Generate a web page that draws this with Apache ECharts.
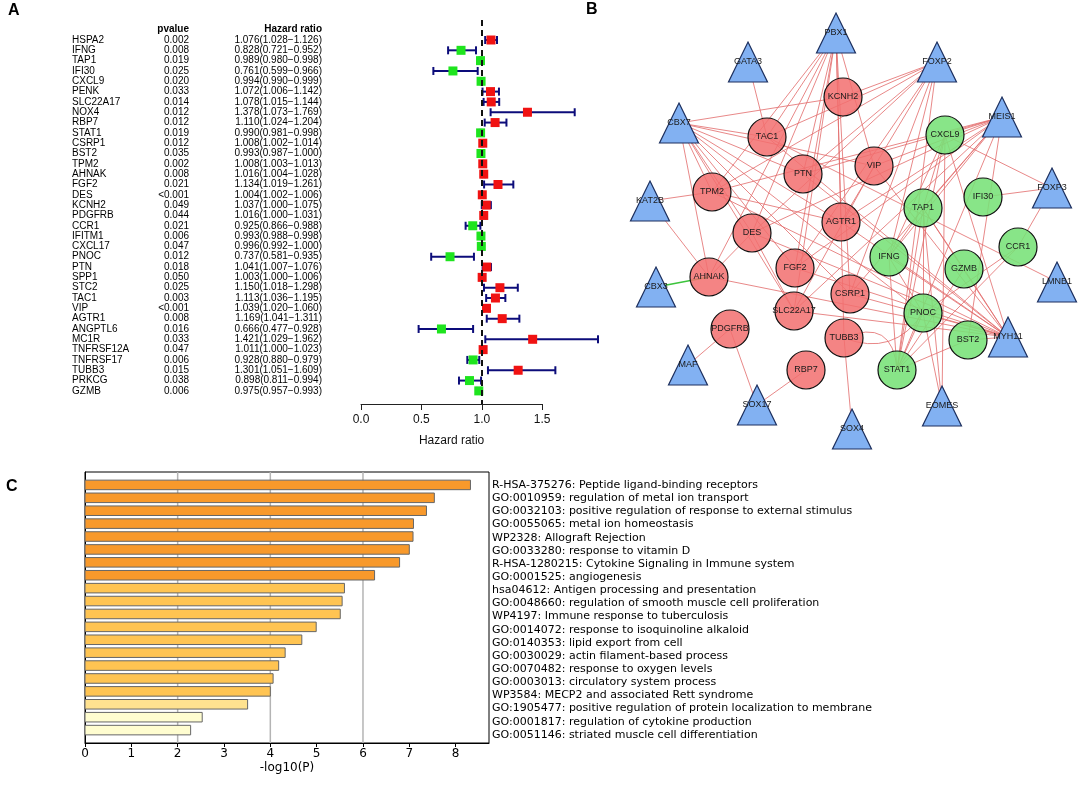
<!DOCTYPE html>
<html><head><meta charset="utf-8">
<script src="https://cdn.jsdelivr.net/npm/echarts@6/dist/echarts.min.js"></script>
<style>html,body{margin:0;padding:0;background:#fff}#c{width:1084px;height:786px}</style>
</head><body><div id="c"></div>
<script>
// ---------- Panel A data ----------
const genes = ['HSPA2','IFNG','TAP1','IFI30','CXCL9','PENK','SLC22A17','NOX4','RBP7','STAT1','CSRP1','BST2','TPM2','AHNAK','FGF2','DES','KCNH2','PDGFRB','CCR1','IFITM1','CXCL17','PNOC','PTN','SPP1','STC2','TAC1','VIP','AGTR1','ANGPTL6','MC1R','TNFRSF12A','TNFRSF17','TUBB3','PRKCG','GZMB'];
const pvalues = ['0.002','0.008','0.019','0.025','0.020','0.033','0.014','0.012','0.012','0.019','0.012','0.035','0.002','0.008','0.021','<0.001','0.049','0.044','0.021','0.006','0.047','0.012','0.018','0.050','0.025','0.003','<0.001','0.008','0.016','0.033','0.047','0.006','0.015','0.038','0.006'];
const hazard = [1.076,0.828,0.989,0.761,0.994,1.072,1.078,1.378,1.110,0.990,1.008,0.993,1.008,1.016,1.134,1.004,1.037,1.016,0.925,0.993,0.996,0.737,1.041,1.003,1.150,1.113,1.039,1.169,0.666,1.421,1.011,0.928,1.301,0.898,0.975];
const ciLow = [1.028,0.721,0.980,0.599,0.990,1.006,1.015,1.073,1.024,0.981,1.002,0.987,1.003,1.004,1.019,1.002,1.000,1.000,0.866,0.988,0.992,0.581,1.007,1.000,1.018,1.036,1.020,1.041,0.477,1.029,1.000,0.880,1.051,0.811,0.957];
const ciHigh = [1.126,0.952,0.998,0.966,0.999,1.142,1.144,1.769,1.204,0.998,1.014,1.000,1.013,1.028,1.261,1.006,1.075,1.031,0.988,0.998,1.000,0.935,1.076,1.006,1.298,1.195,1.060,1.311,0.928,1.962,1.023,0.979,1.609,0.994,0.993];
const hrTicks = [0, 0.5, 1.0, 1.5];

// ---------- Panel B data ----------
const redGenes = ['KCNH2','TAC1','PTN','VIP','TPM2','AGTR1','DES','AHNAK','FGF2','CSRP1','SLC22A17','PDGFRB','TUBB3','RBP7'];
const greenGenes = ['CXCL9','IFI30','TAP1','IFNG','GZMB','CCR1','PNOC','BST2','STAT1'];
const tfGenes = ['PBX1','GATA3','FOXP2','CBX7','MEIS1','FOXP3','KAT2B','CBX3','LMNB1','MYH11','MAF','SOX17','SOX4','EOMES'];
const edgeList = [
['PBX1','TPM2'],['PBX1','DES'],['PBX1','PTN'],['PBX1','AGTR1'],['PBX1','CSRP1'],['PBX1','FGF2'],['PBX1','SLC22A17'],['PBX1','VIP'],['PBX1','AHNAK'],['PBX1','TUBB3'],['PBX1','TAC1'],
['GATA3','TAC1'],
['FOXP2','KCNH2'],['FOXP2','TPM2'],['FOXP2','PTN'],['FOXP2','DES'],['FOXP2','AGTR1'],['FOXP2','FGF2'],['FOXP2','IFNG'],['FOXP2','CSRP1'],['FOXP2','TAC1'],['FOXP2','STAT1'],
['CBX7','KCNH2'],['CBX7','TAC1'],['CBX7','VIP'],['CBX7','PTN'],['CBX7','TPM2'],['CBX7','DES'],['CBX7','AHNAK'],['CBX7','AGTR1'],['CBX7','FGF2'],['CBX7','CSRP1'],['CBX7','SLC22A17'],['CBX7','PNOC'],
['MEIS1','CXCL9'],['MEIS1','VIP'],['MEIS1','PTN'],['MEIS1','TPM2'],['MEIS1','TAP1'],['MEIS1','AGTR1'],['MEIS1','DES'],['MEIS1','IFNG'],['MEIS1','FGF2'],['MEIS1','STAT1'],['MEIS1','CSRP1'],['MEIS1','SLC22A17'],['MEIS1','BST2'],
['FOXP3','IFI30'],['FOXP3','CXCL9'],['FOXP3','CCR1'],
['KAT2B','TPM2'],['KAT2B','AHNAK'],['LMNB1','TAC1'],
['MYH11','DES'],['MYH11','AHNAK'],['MYH11','SLC22A17'],['MYH11','CSRP1'],['MYH11','FGF2'],['MYH11','AGTR1'],['MYH11','PTN'],['MYH11','IFNG'],['MYH11','GZMB'],['MYH11','TAP1'],['MYH11','CXCL9'],['MYH11','PNOC'],['MYH11','TPM2'],['MYH11','VIP'],['MYH11','BST2'],['MYH11','TAC1'],
['MAF','PDGFRB'],['SOX17','PDGFRB'],['SOX17','RBP7'],['SOX4','TUBB3'],
['EOMES','CXCL9'],['EOMES','TAP1'],['EOMES','PNOC'],
['STAT1','IFNG'],['STAT1','TAP1'],['STAT1','PNOC'],['STAT1','CCR1'],['STAT1','BST2'],['STAT1','CXCL9'],['STAT1','GZMB'],
['TAP1','IFNG'],['TAP1','PNOC'],['IFNG','PNOC'],['CXCL9','TAP1'],['DES','SLC22A17'],['AHNAK','DES'],['SLC22A17','VIP'],['TAP1','GZMB'],['CXCL9','IFNG'],['CCR1','PNOC'],['TPM2','AGTR1']
];
const greenEdgeList = [['CBX3','AHNAK']];
const curvedEdgeList = [['TUBB3','STAT1'],['TUBB3','PNOC']];

// ---------- Panel C data ----------
const terms = ['R-HSA-375276: Peptide ligand-binding receptors','GO:0010959: regulation of metal ion transport','GO:0032103: positive regulation of response to external stimulus','GO:0055065: metal ion homeostasis','WP2328: Allograft Rejection','GO:0033280: response to vitamin D','R-HSA-1280215: Cytokine Signaling in Immune system','GO:0001525: angiogenesis','hsa04612: Antigen processing and presentation','GO:0048660: regulation of smooth muscle cell proliferation','WP4197: Immune response to tuberculosis','GO:0014072: response to isoquinoline alkaloid','GO:0140353: lipid export from cell','GO:0030029: actin filament-based process','GO:0070482: response to oxygen levels','GO:0003013: circulatory system process','WP3584: MECP2 and associated Rett syndrome','GO:1905477: positive regulation of protein localization to membrane','GO:0001817: regulation of cytokine production','GO:0051146: striated muscle cell differentiation'];
const logP = [8.32,7.54,7.37,7.09,7.08,7.00,6.79,6.25,5.60,5.55,5.51,4.99,4.68,4.32,4.18,4.06,4.00,3.51,2.53,2.28];
const logPTicks = [0,1,2,3,4,5,6,7,8];
const logPGrid = [2,4,6];

// ---------- layout (positions / styles) ----------
const nodeLayout = {PBX1:[836,33],GATA3:[748,62],FOXP2:[937,62],KCNH2:[843,97],CBX7:[679,123],MEIS1:[1002,117],TAC1:[767,137],CXCL9:[945,135],PTN:[803,174],VIP:[874,166],TPM2:[712,192],IFI30:[983,197],FOXP3:[1052,188],KAT2B:[650,201],TAP1:[923,208],AGTR1:[841,222],DES:[752,233],IFNG:[889,257],GZMB:[964,269],CCR1:[1018,247],FGF2:[795,268],AHNAK:[709,277],CBX3:[656,287],LMNB1:[1057,282],CSRP1:[850,294],SLC22A17:[794,311],PNOC:[923,313],PDGFRB:[730,329],TUBB3:[844,338],BST2:[968,340],MYH11:[1008,337],MAF:[688,365],RBP7:[806,370],STAT1:[897,370],SOX17:[757,405],EOMES:[942,406],SOX4:[852,429]};

const ROW_MIN = -1.938, ROW_MAX = 35.27;
const ARIAL = 'Liberation Sans, Arial, sans-serif';
const DEJAVU = 'DejaVu Sans, sans-serif';

function barColor(v){ if(v>=6) return '#f8992b'; if(v>=3.8) return '#ffc452'; if(v>=3) return '#ffe290'; return '#fffdd0'; }

const nodes = [];
redGenes.forEach(n=>nodes.push({name:n,value:nodeLayout[n],symbol:'circle',symbolSize:38,itemStyle:{color:'rgba(242,110,110,0.85)',borderColor:'#111',borderWidth:1.2}}));
greenGenes.forEach(n=>nodes.push({name:n,value:nodeLayout[n],symbol:'circle',symbolSize:38,itemStyle:{color:'rgba(120,225,120,0.88)',borderColor:'#111',borderWidth:1.2}}));
tfGenes.forEach(n=>nodes.push({name:n,value:nodeLayout[n],symbol:'triangle',symbolSize:[39,40],itemStyle:{color:'#82b1f2',borderColor:'#1c2f5e',borderWidth:1.2}}));
const links = edgeList.map(e=>({source:e[0],target:e[1]}))
  .concat(greenEdgeList.map(e=>({source:e[0],target:e[1],lineStyle:{color:'#3cc43c',width:1.6,opacity:1}})))
  .concat(curvedEdgeList.map((e,i)=>({source:e[0],target:e[1],lineStyle:{curveness:i===0?0.7:-0.4}})));

const chart = echarts.init(document.getElementById('c'));
const hide = {show:false};
const option = {
  backgroundColor:'#fff',
  animation:false,
  grid:[
    {left:60, top:20, width:280, height:384},
    {left:361, top:20, width:241.6, height:384},
    {left:361, top:403, width:181.2, height:1},
    {left:620, top:0, width:464, height:470},
    {left:85, top:472, width:404, height:271, show:true, borderColor:'#000', borderWidth:1},
    {left:492, top:472, width:300, height:276}
  ],
  xAxis:[
    {gridIndex:0, type:'value', min:0, max:280, show:false},
    {gridIndex:1, type:'value', min:0, max:2, show:false},
    {gridIndex:2, type:'value', min:0, max:1.5, interval:0.5, position:'bottom',
      axisLine:{show:true,onZero:false,lineStyle:{color:'#222',width:1}}, axisTick:{show:true,length:6,lineStyle:{color:'#222'}},
      splitLine:hide, axisLabel:{fontSize:12,color:'#111',fontFamily:ARIAL,margin:10,formatter:v=>v.toFixed(1)},
      name:'Hazard ratio', nameLocation:'middle', nameGap:31, nameTextStyle:{fontSize:12,color:'#111',fontFamily:ARIAL}},
    {gridIndex:3, type:'value', min:620, max:1084, show:false},
    {gridIndex:4, type:'value', min:0, max:8.72, interval:1, position:'bottom',
      axisLine:{show:true,onZero:false,lineStyle:{color:'#000'}}, axisTick:{show:true,length:4,customValues:logPTicks,lineStyle:{color:'#000'}},
      splitLine:hide, axisLabel:{fontSize:12,color:'#000',fontFamily:DEJAVU,margin:5,customValues:logPTicks},
      name:'-log10(P)', nameLocation:'middle', nameGap:19, nameTextStyle:{fontSize:12,color:'#000',fontFamily:DEJAVU}},
    {gridIndex:5, type:'value', min:0, max:300, show:false}
  ],
  yAxis:[
    {gridIndex:0, type:'value', min:ROW_MIN, max:ROW_MAX, inverse:true, show:false},
    {gridIndex:1, type:'value', min:ROW_MIN, max:ROW_MAX, inverse:true, show:false},
    {gridIndex:2, type:'value', min:0, max:1, show:false},
    {gridIndex:3, type:'value', min:0, max:470, inverse:true, show:false},
    {gridIndex:4, type:'value', min:-1, max:20, inverse:true, position:'left', axisLine:{show:true,onZero:false,lineStyle:{color:'#000'}}, axisTick:hide, axisLabel:hide, splitLine:hide},
    {gridIndex:5, type:'value', min:-1, max:20, inverse:true, show:false}
  ],
  graphic:[
    {type:'text', left:8, top:3, style:{text:'A', font:'bold 16px '+ARIAL, fill:'#000'}},
    {type:'text', left:586, top:2, style:{text:'B', font:'bold 16px '+ARIAL, fill:'#000'}},
    {type:'text', left:6, top:479, style:{text:'C', font:'bold 16px '+ARIAL, fill:'#000'}}
  ],
  series:[
    {type:'custom', xAxisIndex:0, yAxisIndex:0, silent:true, data:[[-1]],
     renderItem:(p,api)=>{const r=api.value(0); const a=api.coord([129,r]); const b=api.coord([262,r]);
       return {type:'group',children:[
         {type:'text',x:a[0],y:a[1],style:{text:'pvalue',textAlign:'right',textVerticalAlign:'middle',font:'bold 10px '+ARIAL,fill:'#000'}},
         {type:'text',x:b[0],y:b[1],style:{text:'Hazard ratio',textAlign:'right',textVerticalAlign:'middle',font:'bold 10px '+ARIAL,fill:'#000'}}]};}},
    {type:'custom', xAxisIndex:0, yAxisIndex:0, silent:true, data:genes.map((g,i)=>[i]),
     renderItem:(p,api)=>{const i=api.value(0); const g=api.coord([12,i]); const a=api.coord([129,i]); const b=api.coord([262,i]);
       const hr = hazard[i].toFixed(3)+'('+ciLow[i].toFixed(3)+'\u2212'+ciHigh[i].toFixed(3)+')';
       const st = t=>({text:t,textVerticalAlign:'middle',font:'10px '+ARIAL,fill:'#000'});
       return {type:'group',children:[
         {type:'text',x:g[0],y:g[1],style:Object.assign(st(genes[i]),{textAlign:'left'})},
         {type:'text',x:a[0],y:a[1],style:Object.assign(st(pvalues[i]),{textAlign:'right'})},
         {type:'text',x:b[0],y:b[1],style:Object.assign(st(hr),{textAlign:'right'})}]};}},
    {type:'custom', xAxisIndex:1, yAxisIndex:1, silent:true, z:3, data:genes.map((g,i)=>[ciLow[i],ciHigh[i],i]),
     renderItem:(p,api)=>{const lo=api.coord([api.value(0),api.value(2)]); const hi=api.coord([api.value(1),api.value(2)]);
       const s={stroke:'#0c0c7a',lineWidth:2}; const h=4;
       return {type:'group',children:[
         {type:'line',shape:{x1:lo[0],y1:lo[1],x2:hi[0],y2:hi[1]},style:s},
         {type:'line',shape:{x1:lo[0],y1:lo[1]-h,x2:lo[0],y2:lo[1]+h},style:s},
         {type:'line',shape:{x1:hi[0],y1:hi[1]-h,x2:hi[0],y2:hi[1]+h},style:s}]};}},
    {type:'scatter', xAxisIndex:1, yAxisIndex:1, silent:true, z:4, symbol:'rect', symbolSize:9,
     data:hazard.map((h,i)=>[h,i]),
     itemStyle:{color:p=>p.value[0]>1?'#f01212':'#1ee41e', opacity:1},
     markLine:{silent:true, symbol:'none', label:hide, lineStyle:{color:'#111',type:[6,4],width:2}, data:[{xAxis:1}]}},
    {type:'scatter', xAxisIndex:2, yAxisIndex:2, data:[], silent:true},
    {type:'graph', coordinateSystem:'cartesian2d', xAxisIndex:3, yAxisIndex:3, silent:true, z:3,
     data:nodes, links:links,
     lineStyle:{color:'#e26a6a', width:1, opacity:0.8, curveness:0},
     label:{show:true, position:'inside', fontSize:9, color:'#1a1a1a', fontFamily:ARIAL},
     emphasis:{disabled:true}},
    {type:'custom', xAxisIndex:4, yAxisIndex:4, silent:true, z:1, data:logPGrid.map(v=>[v]),
     renderItem:(p,api)=>{const a=api.coord([api.value(0),-1]); const b=api.coord([api.value(0),20]);
       return {type:'line',shape:{x1:a[0],y1:a[1],x2:b[0],y2:b[1]},style:{stroke:'#b4b4b4',lineWidth:1.5}};}},
    {type:'custom', xAxisIndex:4, yAxisIndex:4, silent:true, z:2, data:logP.map((v,i)=>[v,i]),
     renderItem:(p,api)=>{const v=api.value(0), i=api.value(1); const s=api.coord([0,i]); const e=api.coord([v,i]); const h=api.size([0,1])[1]*0.74;
       return {type:'rect',shape:{x:s[0],y:s[1]-h/2,width:e[0]-s[0],height:h},style:{fill:barColor(v),stroke:'#666',lineWidth:1}};}},
    {type:'custom', xAxisIndex:5, yAxisIndex:5, silent:true, data:terms.map((t,i)=>[0,i]),
     renderItem:(p,api)=>{const i=api.value(1); const c=api.coord([0,i]);
       return {type:'text',x:c[0],y:c[1],style:{text:terms[i],textAlign:'left',textVerticalAlign:'middle',font:'11px '+DEJAVU,fill:'#000'}};}}
  ]
};
chart.setOption(option);
</script></body></html>
